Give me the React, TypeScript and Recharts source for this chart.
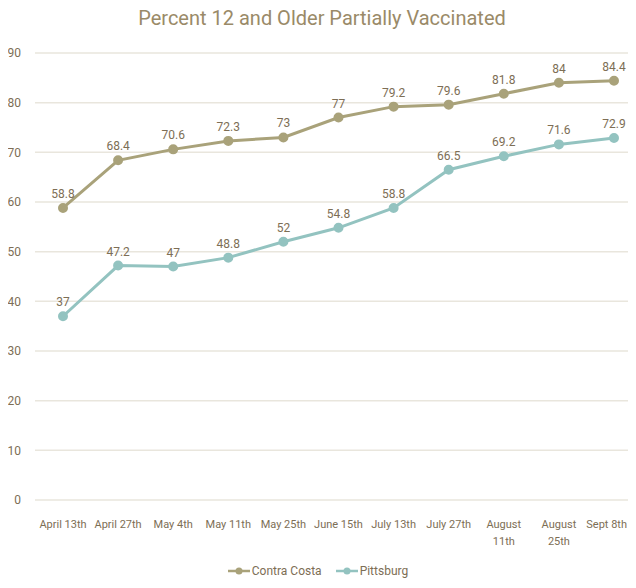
import React from 'react';
import { LineChart, Line, XAxis, YAxis, CartesianGrid, Legend, LabelList } from 'recharts';

const dates = [
  'April 13th', 'April 27th', 'May 4th', 'May 11th', 'May 25th', 'June 15th',
  'July 13th', 'July 27th', 'August\n11th', 'August\n25th', 'Sept 8th',
];
const contraCosta = [58.8, 68.4, 70.6, 72.3, 73, 77, 79.2, 79.6, 81.8, 84, 84.4];
const pittsburg = [37, 47.2, 47, 48.8, 52, 54.8, 58.8, 66.5, 69.2, 71.6, 72.9];
const yTicks = [0, 10, 20, 30, 40, 50, 60, 70, 80, 90];

const CC_COLOR = '#a9a27a';
const PB_COLOR = '#93c3c0';
const TEXT = '#7d6e55';
const FONT = 'Roboto, "Liberation Sans", sans-serif';

const data = dates.map((d, i) => ({ date: d, cc: contraCosta[i], pb: pittsburg[i] }));

function DateTick({ x, y, payload, index }: any) {
  const lines = String(payload.value).split('\n');
  // keep the last label inside the page
  const last = index === dates.length - 1;
  const tx = last ? x + 13 : x;
  return (
    <text x={tx} y={y} textAnchor={last ? 'end' : 'middle'} fill={TEXT} fontSize={11} fontFamily={FONT}>
      {lines.map((l, i) => (
        <tspan key={i} x={tx} dy={i === 0 ? 10 : 17}>{l}</tspan>
      ))}
    </text>
  );
}

function LegendContent() {
  const items = [
    { name: 'Contra Costa', color: CC_COLOR },
    { name: 'Pittsburg', color: PB_COLOR },
  ];
  return (
    <div style={{ display: 'flex', justifyContent: 'center', gap: 14, fontFamily: FONT, fontSize: 12, color: TEXT, marginLeft: -8, marginTop: 2 }}>
      {items.map(it => (
        <div key={it.name} style={{ display: 'flex', alignItems: 'center' }}>
          <svg width={22} height={10} style={{ marginRight: 2 }}>
            <line x1={0} y1={5} x2={22} y2={5} stroke={it.color} strokeWidth={2.5} />
            <circle cx={11} cy={5} r={3.5} fill={it.color} />
          </svg>
          <span>{it.name}</span>
        </div>
      ))}
    </div>
  );
}

export default function App() {
  return (
    <div style={{ width: 628, height: 572, position: 'relative' }}>
      <div style={{ position: 'absolute', top: 0, width: '100%', textAlign: 'center', fontFamily: FONT, fontSize: 20, color: '#9a8a68', lineHeight: '20px' }}>
        Percent 12 and Older Partially Vaccinated
      </div>
      <LineChart width={628} height={572} data={data} margin={{ top: 45, right: 0, bottom: 0, left: 0 }}>
        <CartesianGrid vertical={false} stroke="#e9e6dd" strokeWidth={1.5} />
        <XAxis
          dataKey="date"
          scale="point"
          padding={{ left: 28, right: 22 }}
          interval={0}
          axisLine={false}
          tickLine={false}
          height={62}
          tickMargin={12}
          tick={<DateTick />}
        />
        <YAxis
          domain={[0, 90]}
          ticks={yTicks}
          width={27}
          axisLine={false}
          tickLine={false}
          tick={{ fill: TEXT, fontSize: 12, fontFamily: FONT }}
          tickMargin={8}
        />
        <Legend verticalAlign="bottom" height={18} content={<LegendContent />} />
        <Line type="linear" dataKey="cc" name="Contra Costa" stroke={CC_COLOR} strokeWidth={3}
          dot={{ r: 3.5, fill: CC_COLOR, stroke: CC_COLOR }} isAnimationActive={false}>
          <LabelList dataKey="cc" position="top" offset={10} fill={TEXT} fontSize={12} fontFamily={FONT} />
        </Line>
        <Line type="linear" dataKey="pb" name="Pittsburg" stroke={PB_COLOR} strokeWidth={3}
          dot={{ r: 3.5, fill: PB_COLOR, stroke: PB_COLOR }} isAnimationActive={false}>
          <LabelList dataKey="pb" position="top" offset={10} fill={TEXT} fontSize={12} fontFamily={FONT} />
        </Line>
      </LineChart>
    </div>
  );
}
